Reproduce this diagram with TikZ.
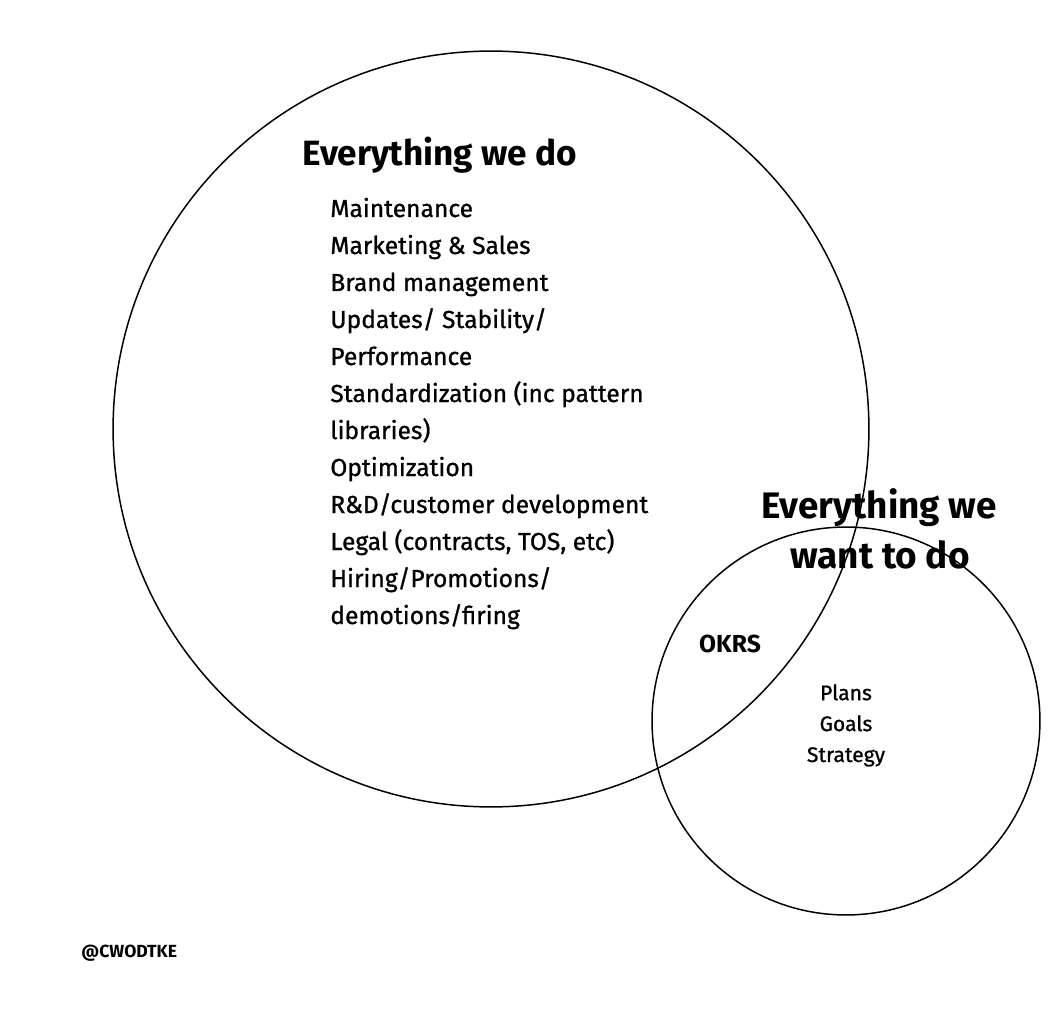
\documentclass[tikz,border=0pt]{standalone}
\usepackage{fontspec}
\setmainfont{Fira Sans}
\newfontfamily\thickfont{Fira Sans}[FakeBold=0.9]
\usetikzlibrary{positioning}
\tikzset{
  ring/.style={line width=0.85pt},
  heading/.style={font=\fontsize{20}{24}\selectfont\bfseries, inner sep=0pt, anchor=base},
  entry/.style={font=\thickfont\fontsize{14}{17}\selectfont, inner sep=0pt, anchor=base west},
  aim/.style={font=\thickfont\fontsize{12}{17.6}\selectfont, inner sep=0pt, align=center, anchor=north},
  tag/.style={font=\fontsize{14}{17}\selectfont\bfseries, inner sep=0pt, anchor=base}
}
\begin{document}
\begin{tikzpicture}[x=0.02cm,y=-0.02cm]
\useasboundingbox (0,0) rectangle (1063,1024);
\fill[white] (0,0) rectangle (1063,1024);
\draw[ring] (491,429) circle (7.56cm);
\draw[ring] (846,721) circle (3.88cm);
\node[heading,anchor=base west] (wedo) at (302,166) {Everything we do};
\foreach \t [count=\i] in {Maintenance, Marketing \& Sales, Brand management,
    Updates/ Stability/, Performance, Standardization (inc pattern, libraries),
    Optimization, R\&D/customer development, {Legal (contracts, TOS, etc)},
    Hiring/Promotions/, demotions/firing}
  \node[entry] (item\i) at (330,{217+37*(\i-1)}) {\t};
\node[heading,font=\fontsize{21}{24}\selectfont\bfseries] (wantA) at (879,518) {Everything we};
\node[heading,font=\fontsize{21}{24}\selectfont\bfseries] (wantB) at (880,568) {want to do};
\node[tag] (okrs) at (730,652) {OKRS};
\node[aim] (aims) at (846,684) {Plans\\Goals\\Strategy};
\node[tag,font=\fontsize{10}{12}\selectfont\bfseries,anchor=base west] (credit) at (81,957) {@CWODTKE};
\end{tikzpicture}
\end{document}
